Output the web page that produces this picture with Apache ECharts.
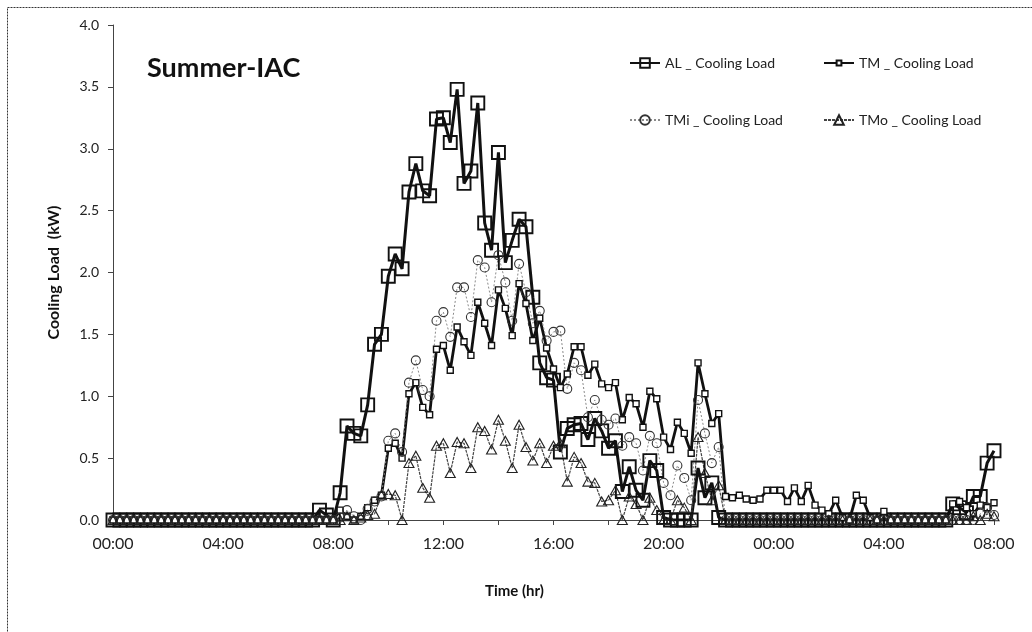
<!DOCTYPE html>
<html>
<head>
<meta charset="utf-8">
<script src="https://cdn.jsdelivr.net/npm/echarts@6/dist/echarts.min.js"></script>
<style>
  html, body { margin: 0; padding: 0; background: #fff; }
  #chart { width: 1032px; height: 632px; }
</style>
</head>
<body>
<div id="chart"></div>
<script>
// Readings every 15 minutes over 32 hours (00:00 day 1 to 08:00 day 2)
const timeStepHours = 0.25;
const xTickLabels = ['00:00', '04:00', '08:00', '12:00', '16:00', '20:00', '00:00', '04:00', '08:00'];
const yTickLabels = ['0.0', '0.5', '1.0', '1.5', '2.0', '2.5', '3.0', '3.5', '4.0'];
const seriesNames = ['AL _ Cooling Load', 'TM _ Cooling Load', 'TMi _ Cooling Load', 'TMo _ Cooling Load'];

const alLoad = [
  0, 0, 0, 0, 0, 0, 0, 0, 0, 0,
  0, 0, 0, 0, 0, 0, 0, 0, 0, 0,
  0, 0, 0, 0, 0, 0, 0, 0, 0, 0,
  0.08, 0.04, 0.00, 0.22, 0.76, 0.70, 0.68, 0.93, 1.42, 1.50,
  1.97, 2.15, 2.03, 2.65, 2.88, 2.66, 2.62, 3.24, 3.25, 3.05,
  3.48, 2.72, 2.82, 3.37, 2.40, 2.18, 2.97, 2.08, 2.26, 2.43,
  2.37, 1.80, 1.27, 1.15, 1.13, 0.55, 0.74, 0.77, 0.78, 0.65,
  0.82, 0.72, 0.58, 0.64, 0.23, 0.43, 0.24, 0.16, 0.48, 0.40,
  0.02, 0, 0, 0, 0, 0.42, 0.18, 0.30, 0.02, 0,
  0, 0, 0, 0, 0, 0, 0, 0, 0, 0,
  0, 0, 0, 0, 0, 0, 0, 0, 0, 0,
  0, 0, 0, 0, 0, 0, 0, 0, 0, 0,
  0, 0, 0.13, 0.10, 0.06, 0.19, 0.19, 0.46, 0.56
];

const tmLoad = [
  0, 0, 0, 0, 0, 0, 0, 0, 0, 0,
  0, 0, 0, 0, 0, 0, 0, 0, 0, 0,
  0, 0, 0, 0, 0, 0, 0, 0, 0, 0,
  0, 0, 0, 0.08, 0.03, 0.00, 0.03, 0.10, 0.16, 0.20,
  0.58, 0.62, 0.50, 1.02, 1.11, 0.91, 0.85, 1.38, 1.41, 1.21,
  1.56, 1.44, 1.33, 1.76, 1.59, 1.41, 1.86, 1.71, 1.49, 1.91,
  1.75, 1.45, 1.63, 1.39, 1.22, 1.07, 1.18, 1.40, 1.40, 1.17,
  1.26, 1.10, 1.07, 1.11, 0.81, 0.99, 0.94, 0.75, 1.04, 0.98,
  0.67, 0.57, 0.79, 0.70, 0.54, 1.27, 1.02, 0.78, 0.86, 0.19,
  0.18, 0.20, 0.17, 0.16, 0.17, 0.24, 0.24, 0.24, 0.15, 0.26,
  0.15, 0.28, 0.12, 0.08, 0.05, 0.16, 0.02, 0.00, 0.20, 0.16,
  0.02, 0.00, 0.07, 0, 0, 0, 0, 0, 0, 0,
  0, 0, 0.13, 0.15, 0.10, 0.05, 0.12, 0.10, 0.14
];

const tmiLoad = [
  0, 0, 0, 0, 0, 0, 0, 0, 0, 0,
  0, 0, 0, 0, 0, 0, 0, 0, 0, 0,
  0, 0, 0, 0, 0, 0, 0, 0, 0, 0,
  0, 0, 0, 0.02, 0.08, 0.03, 0.00, 0.09, 0.15, 0.19,
  0.64, 0.70, 0.55, 1.11, 1.29, 1.05, 1.00, 1.61, 1.68, 1.48,
  1.88, 1.88, 1.64, 2.10, 2.04, 1.76, 2.14, 1.92, 1.61, 2.07,
  1.84, 1.59, 1.69, 1.45, 1.52, 1.53, 1.06, 1.27, 1.21, 0.83,
  0.97, 0.81, 0.77, 0.82, 0.60, 0.67, 0.62, 0.40, 0.68, 0.62,
  0.30, 0.20, 0.44, 0.34, 0.16, 0.97, 0.70, 0.46, 0.59, 0,
  0, 0, 0, 0, 0, 0, 0, 0, 0, 0,
  0, 0, 0, 0, 0, 0, 0, 0, 0, 0,
  0, 0, 0, 0, 0, 0, 0, 0, 0, 0,
  0, 0, 0, 0, 0, 0, 0.05, 0.10, 0.04
];

const tmoLoad = [
  0, 0, 0, 0, 0, 0, 0, 0, 0, 0,
  0, 0, 0, 0, 0, 0, 0, 0, 0, 0,
  0, 0, 0, 0, 0, 0, 0, 0, 0, 0,
  0, 0, 0, 0, 0.03, 0.00, 0.02, 0.04, 0.05, 0.20,
  0.21, 0.20, 0.00, 0.46, 0.52, 0.26, 0.18, 0.60, 0.62, 0.38,
  0.63, 0.62, 0.42, 0.75, 0.72, 0.57, 0.81, 0.64, 0.42, 0.77,
  0.59, 0.48, 0.62, 0.46, 0.60, 0.62, 0.31, 0.51, 0.46, 0.31,
  0.30, 0.15, 0.16, 0.24, 0.00, 0.19, 0.13, 0.00, 0.18, 0.08,
  0.00, 0.00, 0.16, 0.10, 0.00, 0.67, 0.38, 0.16, 0.28, 0,
  0, 0, 0, 0, 0, 0, 0, 0, 0, 0,
  0, 0, 0, 0, 0, 0, 0, 0, 0, 0,
  0, 0, 0, 0, 0, 0, 0, 0, 0, 0,
  0, 0, 0, 0, 0, 0.03, 0.00, 0.05, 0.03
];

const FONT = 'Lato, "Open Sans", "DejaVu Sans", sans-serif';

// pair each reading with its time in hours since 00:00 of day 1
function toPoints(values) {
  return values.map((v, i) => [i * timeStepHours, v]);
}

const chart = echarts.init(document.getElementById('chart'), null, { renderer: 'canvas' });

const legendText = { fontFamily: FONT, fontSize: 14, color: '#222' };
// the legend marker is drawn at 80% of itemHeight, so the height sets the marker size
function legendAt(name, left, top, markerBox) {
  return {
    data: [name], left: left, top: top, orient: 'horizontal',
    itemWidth: 30, itemHeight: markerBox, itemGap: 4,
    textStyle: legendText, selectedMode: false
  };
}

chart.setOption({
  animation: false,
  backgroundColor: '#fff',
  title: {
    text: 'Summer-IAC', left: 142, top: 50,
    textStyle: { fontFamily: FONT, fontSize: 27, fontWeight: 'bold', color: '#111' }
  },
  legend: [
    legendAt(seriesNames[0], 624, 51, 12),
    legendAt(seriesNames[1], 818, 51, 6),
    legendAt(seriesNames[2], 624, 108, 12),
    legendAt(seriesNames[3], 818, 108, 12)
  ],
  grid: { left: 113, right: 38, top: 25, bottom: 112, containLabel: false },
  xAxis: {
    type: 'value', min: 0, max: 32, interval: 2,
    name: 'Time (hr)', nameLocation: 'middle', nameGap: 64,
    nameTextStyle: { fontFamily: FONT, fontSize: 15, fontWeight: 'bold', color: '#111', padding: [0, 78, 0, 0] },
    axisLine: { show: true, lineStyle: { color: '#444', width: 1 } },
    axisTick: { show: true, inside: false, length: 5, lineStyle: { color: '#444' } },
    splitLine: { show: false },
    axisLabel: {
      fontFamily: FONT, fontSize: 16, color: '#222', margin: 16,
      formatter: v => (v % 4 === 0 ? xTickLabels[v / 4] : '')
    }
  },
  yAxis: {
    type: 'value', min: 0, max: 4, interval: 0.5,
    name: 'Cooling Load  (kW)', nameLocation: 'middle', nameGap: 51, nameRotate: 90,
    nameTextStyle: { fontFamily: FONT, fontSize: 16, fontWeight: 'bold', color: '#111' },
    axisLine: { show: true, lineStyle: { color: '#444', width: 1 } },
    axisTick: { show: true, inside: false, length: 5, lineStyle: { color: '#444' } },
    splitLine: { show: false },
    axisLabel: {
      fontFamily: FONT, fontSize: 14, color: '#222', margin: 14,
      formatter: v => yTickLabels[Math.round(v / 0.5)]
    }
  },
  graphic: [{
    type: 'rect', silent: true, z: -1,
    shape: { x: 7.5, y: 7.5, width: 1040, height: 640 },
    style: { fill: 'none', stroke: '#333', lineWidth: 1, lineDash: [2, 1] }
  }],
  series: [
    {
      name: seriesNames[0], type: 'line', data: toPoints(alLoad),
      symbol: 'rect', symbolSize: 13, showAllSymbol: true,
      lineStyle: { color: '#111', width: 3 },
      itemStyle: { color: 'rgba(255,255,255,0)', borderColor: '#111', borderWidth: 1.9 }
    },
    {
      name: seriesNames[1], type: 'line', data: toPoints(tmLoad),
      symbol: 'rect', symbolSize: 6, showAllSymbol: true,
      lineStyle: { color: '#111', width: 2.8 },
      itemStyle: { color: '#fff', borderColor: '#111', borderWidth: 1.4 }
    },
    {
      name: seriesNames[2], type: 'line', data: toPoints(tmiLoad),
      symbol: 'circle', symbolSize: 9, showAllSymbol: true,
      lineStyle: { color: '#8a8a8a', width: 1, type: [2, 2] },
      itemStyle: { color: 'rgba(255,255,255,0)', borderColor: '#333', borderWidth: 1.1 }
    },
    {
      name: seriesNames[3], type: 'line', data: toPoints(tmoLoad),
      symbol: 'triangle', symbolSize: [10, 9], showAllSymbol: true,
      lineStyle: { color: '#444', width: 1.2, type: [3, 1] },
      itemStyle: { color: 'rgba(255,255,255,0)', borderColor: '#222', borderWidth: 1.1 }
    }
  ]
});
</script>
</body>
</html>
